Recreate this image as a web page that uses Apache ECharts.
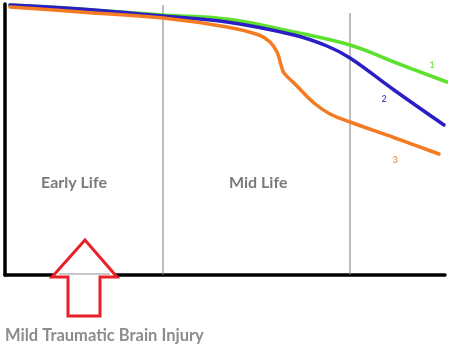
<!DOCTYPE html>
<html><head><meta charset="utf-8">
<script src="https://cdn.jsdelivr.net/npm/echarts@6/dist/echarts.min.js"></script>
<style>html,body{margin:0;padding:0;background:#fff}#c{width:454px;height:348px}</style>
</head><body><div id="c"></div>
<script>
// data in chart units (x: 0..440 life span, y: 0..271 function level)
const curve1 = [[5,270],[75,266],[158,260],[222,256],[289,243],[345,230],[389,213],[442,193]];
const curve2 = [[5,270],[75,266],[158,259],[222,253],[289,240],[322,229],[345,217],[389,185],[439,150]];
const curve3 = [[5,268],[75,263],[158,257],[222,248],[254,240],[265,233],[272,223],[276,210],[279,202],[289,192],[309,172],[325,161],[345,153],[390,137],[434,121]];
const dividers = [[[158,0],[158,270]],[[345,0],[345,262]]];
const arrowOutline = [[80,35],[112,-2],[95,-2],[95,-41],[63,-41],[63,-2],[47,-2]];
const curveLabels = [{name:'1', at:[427,210]},{name:'2', at:[379,176]},{name:'3', at:[390,115]}];

const chart = echarts.init(document.getElementById('c'));
const lineS = (d, color) => ({type:'line', data:d, smooth:0.4, symbol:'none', clip:false,
  lineStyle:{color, width:3.5, cap:'round'}, z:5});
const colors = ['#5ee12c','#2a1fc4','#f47b22'];
chart.setOption({
  animation:false,
  grid:{left:5, right:9, top:4, bottom:73},
  xAxis:{type:'value', min:0, max:440, z:0, axisLine:{show:true, onZero:false, lineStyle:{color:'#000', width:3.5}}, axisTick:{show:false}, axisLabel:{show:false}, splitLine:{show:false}},
  yAxis:{type:'value', min:0, max:271, z:0, axisLine:{show:true, onZero:false, lineStyle:{color:'#000', width:3.5}}, axisTick:{show:false}, axisLabel:{show:false}, splitLine:{show:false}},
  series:[
    ...dividers.map(d => ({type:'line', data:d, symbol:'none', lineStyle:{color:'#7f7f7f', width:1}, z:1})),
    lineS(curve1, colors[0]), lineS(curve2, colors[1]), lineS(curve3, colors[2]),
    {type:'scatter', data:curveLabels.map((c,i)=>({value:c.at, label:{show:true, formatter:c.name, color:colors[i]}})),
      symbolSize:0, label:{fontSize:9, fontWeight:'bold', fontFamily:'Lato'}, z:6},
    {type:'custom', clip:false, z:20, zlevel:1, data:[0],
      renderItem:(params, api) => {
        const pts = arrowOutline.map(p => api.coord(p));
        const a = api.coord([50,0]), b = api.coord([109,0]);
        return {type:'group', children:[
          {type:'polygon', shape:{points:pts}, style:{fill:'#fff', stroke:'#e8202a', lineWidth:3, lineJoin:'miter'}},
          {type:'line', shape:{x1:a[0]+4, y1:a[1]-1, x2:b[0]-4, y2:b[1]-1}, style:{stroke:'#c8c8c8', lineWidth:2}}
        ]};
      }}
  ],
  graphic:[
    {type:'text', left:41, top:175, style:{text:'Early Life', font:'bold 16px Lato', fill:'#7a7a7a'}},
    {type:'text', left:229, top:175, style:{text:'Mid Life', font:'bold 16px Lato', fill:'#7a7a7a'}},
    {type:'text', left:5, top:327, style:{text:'Mild Traumatic Brain Injury', font:'bold 16.5px Lato', fill:'#8c8c8c'}}
  ]
});
</script></body></html>
